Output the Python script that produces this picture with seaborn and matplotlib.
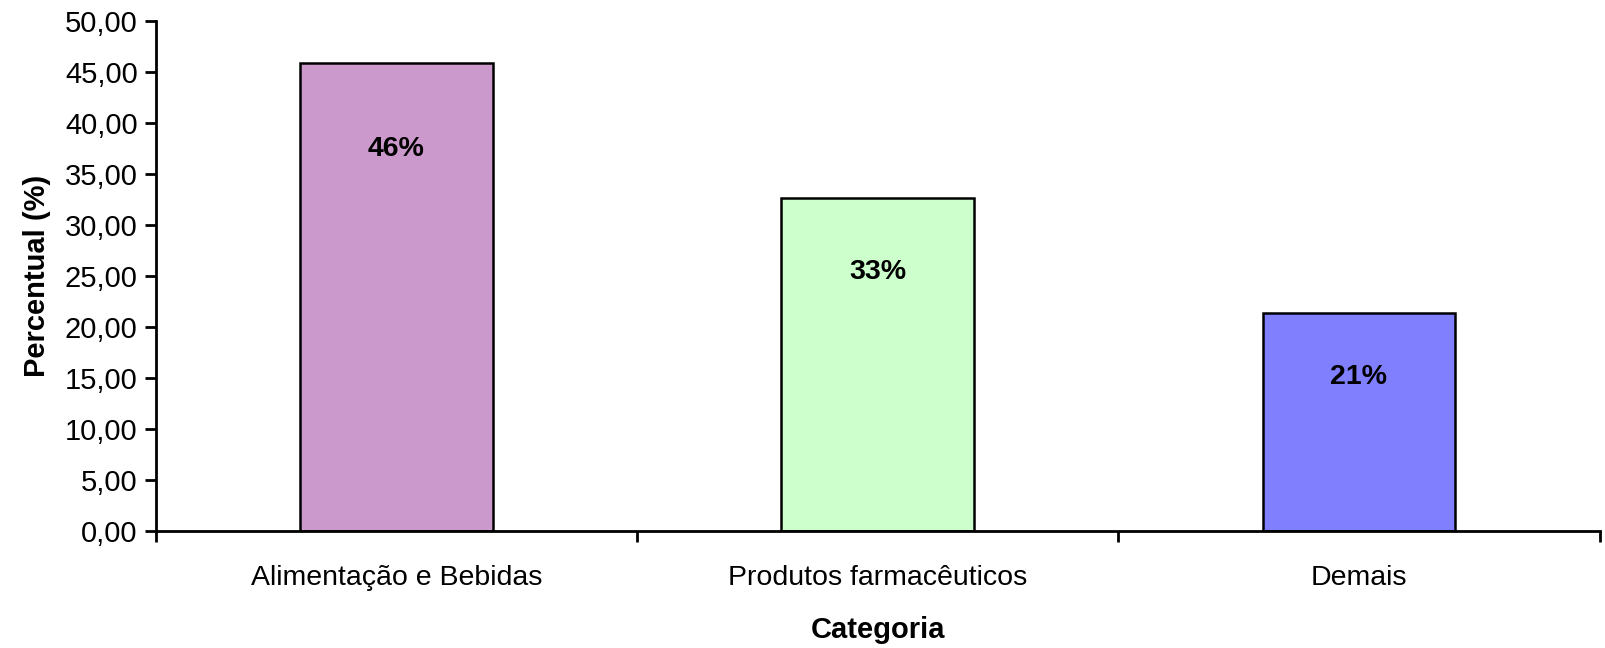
import matplotlib
matplotlib.use('Agg')
import matplotlib.pyplot as plt
import seaborn as sns
import pandas as pd
from matplotlib.ticker import FuncFormatter, FixedLocator

# Data
categorias = ['Alimentação e Bebidas', 'Produtos farmacêuticos', 'Demais']
percentuais = [45.88, 32.73, 21.39]
rotulos = ['46%', '33%', '21%']
cores = ['#CC99CC', '#CCFFCC', '#8080FF']

df = pd.DataFrame({'Categoria': categorias, 'Percentual': percentuais})

sns.set_style('ticks')
plt.rcParams['font.family'] = ['Liberation Sans', 'DejaVu Sans']

fig = plt.figure(figsize=(16.06, 6.48), dpi=100)
ax = fig.add_axes([0.097, 0.180, 0.899, 0.787])

sns.barplot(data=df, x='Categoria', y='Percentual', hue='Categoria',
            palette=cores, saturation=1, width=0.4, edgecolor='black',
            linewidth=1.8, legend=False, ax=ax)

# value labels inside the bars
for i, (v, txt) in enumerate(zip(percentuais, rotulos)):
    ax.text(i, 0.914 * v - 4.45, txt, ha='center', va='center',
            fontsize=20.5, fontweight='bold', color='black')

ax.set_xlim(-0.5, 2.5)
ax.set_ylim(0, 50)
ax.set_yticks([0, 5, 10, 15, 20, 25, 30, 35, 40, 45, 50])
ax.yaxis.set_major_formatter(FuncFormatter(lambda y, _: f'{y:.2f}'.replace('.', ',')))

# category labels between the boundary ticks
ax.set_xticks([0, 1, 2])
ax.set_xticklabels(categorias)
ax.tick_params(axis='x', which='major', length=0, pad=24, labelsize=20.5, labelcolor='black')
ax.xaxis.set_minor_locator(FixedLocator([-0.5, 0.5, 1.5, 2.5]))
ax.tick_params(axis='x', which='minor', bottom=True, length=8, width=2, direction='out', color='black')
ax.tick_params(axis='y', left=True, length=8, width=2, direction='out', labelsize=21,
               pad=5, color='black', labelcolor='black')

for s in ['top', 'right']:
    ax.spines[s].set_visible(False)
for s in ['left', 'bottom']:
    ax.spines[s].set_linewidth(2)
    ax.spines[s].set_color('black')

ax.set_ylabel('Percentual (%)', fontsize=21, fontweight='bold', labelpad=10, color='black')
ax.set_xlabel('Categoria', fontsize=21, fontweight='bold', labelpad=18, color='black')

fig.savefig('out.png', dpi=100)
